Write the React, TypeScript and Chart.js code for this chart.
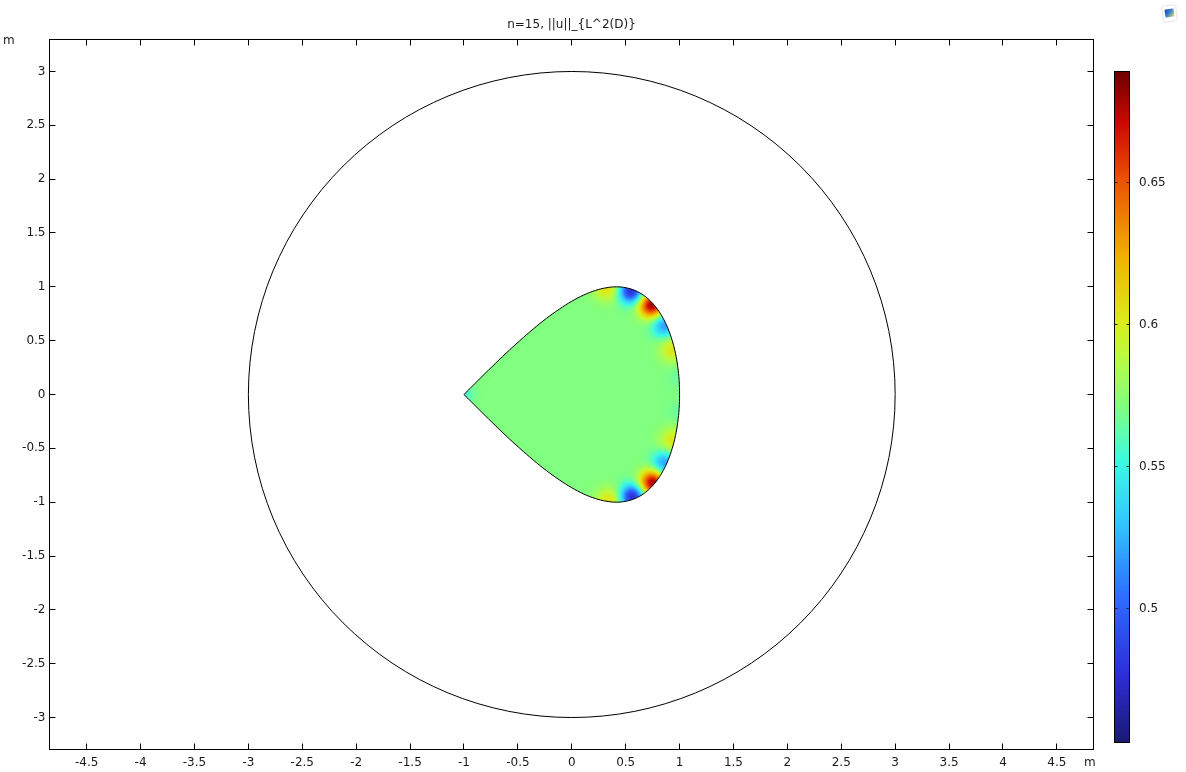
import React, { useEffect, useRef } from "react";
import { Chart, registerables } from "chart.js";

Chart.register(...registerables);

// ---------- data ----------
const titleText = "n=15, ||u||_{L^2(D)}";
const axisUnit = "m";
const xLimits = [-4.845, 4.84];
const yLimits = [-3.297, 3.297];
const xTicks = [-4.5, -4, -3.5, -3, -2.5, -2, -1.5, -1, -0.5, 0, 0.5, 1, 1.5, 2, 2.5, 3, 3.5, 4, 4.5];
const yTicks = [-3, -2.5, -2, -1.5, -1, -0.5, 0, 0.5, 1, 1.5, 2, 2.5, 3];

// outer circle (center x, center y) and radius
const circleCenter = [0, 0];
const circleRadius = [3];

// boundary of the drop-shaped domain D (closed loop)
const dropX = [-1, -0.869, -0.739, -0.61, -0.482, -0.357, -0.235, -0.115, 0, 0.111, 0.218, 0.319, 0.414, 0.504, 0.587, 0.663, 0.732, 0.794, 0.848, 0.894, 0.932, 0.962, 0.983, 0.996, 1, 0.996, 0.983, 0.962, 0.932, 0.894, 0.848, 0.794, 0.732, 0.663, 0.587, 0.504, 0.414, 0.319, 0.218, 0.111, 0, -0.115, -0.235, -0.357, -0.482, -0.61, -0.739, -0.869, -1];
const dropY = [0, 0.131, 0.259, 0.383, 0.5, 0.609, 0.707, 0.793, 0.866, 0.924, 0.966, 0.991, 1, 0.991, 0.966, 0.924, 0.866, 0.793, 0.707, 0.609, 0.5, 0.383, 0.259, 0.131, 0, -0.131, -0.259, -0.383, -0.5, -0.609, -0.707, -0.793, -0.866, -0.924, -0.966, -0.991, -1, -0.991, -0.966, -0.924, -0.866, -0.793, -0.707, -0.609, -0.5, -0.383, -0.259, -0.131, 0];

// field value inside D: background level plus local extrema along the boundary
const baseValue = 0.571;
const spotX = [0.33, 0.55, 0.74, 0.86, 0.94, 0.99, 0.99, 0.94, 0.86, 0.75, 0.56, 0.35, -0.99];
const spotY = [0.99, 0.96, 0.83, 0.64, 0.42, 0.17, -0.17, -0.43, -0.64, -0.82, -0.95, -0.99, 0];
const spotV = [0.607, 0.474, 0.68, 0.517, 0.605, 0.565, 0.565, 0.603, 0.517, 0.68, 0.474, 0.607, 0.556];
const spotW = [0.12, 0.11, 0.115, 0.11, 0.12, 0.1, 0.1, 0.12, 0.11, 0.115, 0.11, 0.12, 0.08];

// colour range
const colorMin = 0.4526;
const colorMax = 0.6893;
const colorTicks = [0.5, 0.55, 0.6, 0.65];

// ---------- style ----------
const FONT = "DejaVu Sans";
const TEXT = "#1a1a1a";
const cmapStops: number[][] = [
  [0.0, 25, 25, 115],
  [0.1, 45, 45, 215],
  [0.22, 45, 110, 255],
  [0.33, 50, 200, 255],
  [0.42, 60, 250, 225],
  [0.5, 128, 255, 128],
  [0.58, 190, 250, 60],
  [0.63, 220, 235, 25],
  [0.72, 240, 180, 0],
  [0.84, 235, 80, 5],
  [0.92, 205, 10, 0],
  [1.0, 110, 0, 0],
];

function cmap(f: number): number[] {
  if (f <= 0) return cmapStops[0].slice(1);
  if (f >= 1) return cmapStops[cmapStops.length - 1].slice(1);
  for (let i = 1; i < cmapStops.length; i++) {
    const a = cmapStops[i - 1];
    const b = cmapStops[i];
    if (f <= b[0]) {
      const t = (f - a[0]) / (b[0] - a[0]);
      return [a[1] + (b[1] - a[1]) * t, a[2] + (b[2] - a[2]) * t, a[3] + (b[3] - a[3]) * t];
    }
  }
  return cmapStops[cmapStops.length - 1].slice(1);
}

const CB = { left: 1114.5, top: 71.5, width: 15, height: 671 };

function tracePolygon(ctx: CanvasRenderingContext2D, xs: number[], ys: number[]) {
  ctx.moveTo(xs[0], ys[0]);
  for (let i = 1; i < xs.length; i++) ctx.lineTo(xs[i], ys[i]);
}

const overlayPlugin = {
  id: "overlay",
  beforeDatasetsDraw(chart: any) {
    const { ctx, chartArea: a, scales } = chart;
    const xs = scales.x;
    const ys = scales.y;

    // outer circle
    const cx = xs.getPixelForValue(circleCenter[0]);
    const cy = ys.getPixelForValue(circleCenter[1]);
    const rx = Math.abs(xs.getPixelForValue(circleCenter[0] + circleRadius[0]) - cx);
    const ry = Math.abs(ys.getPixelForValue(circleCenter[1] + circleRadius[0]) - cy);
    ctx.save();
    ctx.beginPath();
    ctx.ellipse(cx, cy, rx, ry, 0, 0, Math.PI * 2);
    ctx.strokeStyle = "#000";
    ctx.lineWidth = 1;
    ctx.stroke();
    ctx.restore();

    // field inside the drop
    const meta = chart.getDatasetMeta(0);
    const line = meta && meta.dataset;
    if (line && typeof line.updateControlPoints === "function") line.updateControlPoints(a, "x");
    const px = dropX.map((v) => xs.getPixelForValue(v));
    const py = dropY.map((v) => ys.getPixelForValue(v));
    const bx0 = Math.floor(Math.min(...px)) - 2;
    const bx1 = Math.ceil(Math.max(...px)) + 2;
    const by0 = Math.floor(Math.min(...py)) - 2;
    const by1 = Math.ceil(Math.max(...py)) + 2;
    const w = bx1 - bx0;
    const h = by1 - by0;
    const off = document.createElement("canvas");
    off.width = w;
    off.height = h;
    const octx = off.getContext("2d")!;
    const img = octx.createImageData(w, h);
    const range = colorMax - colorMin;
    for (let j = 0; j < h; j++) {
      const yv = ys.getValueForPixel(by0 + j + 0.5);
      for (let i = 0; i < w; i++) {
        const xv = xs.getValueForPixel(bx0 + i + 0.5);
        let v = baseValue;
        for (let k = 0; k < spotX.length; k++) {
          const dx = xv - spotX[k];
          const dy = yv - spotY[k];
          const d2 = (dx * dx + dy * dy) / (spotW[k] * spotW[k]);
          if (d2 < 30) v += (spotV[k] - baseValue) * Math.exp(-d2);
        }
        const c = cmap((v - colorMin) / range);
        const o = (j * w + i) * 4;
        img.data[o] = c[0];
        img.data[o + 1] = c[1];
        img.data[o + 2] = c[2];
        img.data[o + 3] = 255;
      }
    }
    octx.putImageData(img, 0, 0);
    ctx.save();
    ctx.beginPath();
    if (line && typeof line.path === "function") line.path(ctx);
    else tracePolygon(ctx, px, py);
    ctx.closePath();
    ctx.clip();
    ctx.drawImage(off, bx0, by0);
    ctx.restore();
  },
  afterDraw(chart: any) {
    const { ctx, chartArea: a, scales } = chart;
    const xs = scales.x;
    const ys = scales.y;
    ctx.save();
    ctx.strokeStyle = "#000";
    ctx.lineWidth = 1;
    // frame
    ctx.strokeRect(Math.floor(a.left) + 0.5, Math.floor(a.top) + 0.5, Math.round(a.right - a.left), Math.round(a.bottom - a.top));
    // inward ticks on all four sides
    const tl = 6;
    ctx.beginPath();
    const L = Math.floor(a.left) + 0.5;
    const R = Math.floor(a.left) + 0.5 + Math.round(a.right - a.left);
    const T = Math.floor(a.top) + 0.5;
    const B = Math.floor(a.top) + 0.5 + Math.round(a.bottom - a.top);
    xTicks.forEach((v) => {
      const p = Math.floor(xs.getPixelForValue(v)) + 0.5;
      ctx.moveTo(p, B);
      ctx.lineTo(p, B - tl);
      ctx.moveTo(p, T);
      ctx.lineTo(p, T + tl);
    });
    yTicks.forEach((v) => {
      const p = Math.floor(ys.getPixelForValue(v)) + 0.5;
      ctx.moveTo(L, p);
      ctx.lineTo(L + tl, p);
      ctx.moveTo(R, p);
      ctx.lineTo(R - tl, p);
    });
    ctx.stroke();

    // unit labels
    ctx.fillStyle = TEXT;
    ctx.font = `12px "${FONT}"`;
    ctx.textAlign = "left";
    ctx.textBaseline = "middle";
    ctx.fillText(axisUnit, 3, 41);
    ctx.fillText(axisUnit, 1084, 762.5);

    // colour bar
    const top = CB.top;
    const bottom = CB.top + CB.height;
    for (let r = Math.ceil(top); r < bottom; r++) {
      const f = (bottom - (r + 0.5)) / CB.height;
      const c = cmap(f);
      ctx.fillStyle = `rgb(${Math.round(c[0])},${Math.round(c[1])},${Math.round(c[2])})`;
      ctx.fillRect(CB.left, r, CB.width, 1);
    }
    ctx.strokeStyle = "#000";
    ctx.strokeRect(CB.left, CB.top, CB.width, CB.height);
    ctx.beginPath();
    ctx.fillStyle = TEXT;
    colorTicks.forEach((v) => {
      const f = (v - colorMin) / (colorMax - colorMin);
      const p = Math.floor(bottom - f * CB.height) + 0.5;
      ctx.moveTo(CB.left, p);
      ctx.lineTo(CB.left + 3, p);
      ctx.moveTo(CB.left + CB.width, p);
      ctx.lineTo(CB.left + CB.width - 3, p);
      ctx.fillText(String(v), 1139, p);
    });
    ctx.strokeStyle = "#222";
    ctx.stroke();
    ctx.restore();
  },
};

export default function App() {
  const canvasRef = useRef<HTMLCanvasElement | null>(null);

  useEffect(() => {
    const canvas = canvasRef.current;
    if (!canvas) return;
    const chart = new Chart(canvas, {
      type: "scatter",
      data: {
        datasets: [
          {
            label: "D",
            data: dropX.map((x, i) => ({ x, y: dropY[i] })),
            showLine: true,
            tension: 0.4,
            borderColor: "#000",
            borderWidth: 1,
            pointRadius: 0,
            pointHoverRadius: 0,
            fill: false,
          } as any,
        ],
      },
      options: {
        animation: false,
        responsive: false,
        events: [],
        layout: { padding: { left: 0, right: 92.5, top: 0, bottom: 0 } },
        plugins: {
          legend: { display: false },
          tooltip: { enabled: false },
          title: {
            display: true,
            text: titleText,
            fullSize: false,
            color: TEXT,
            font: { family: FONT, size: 12, weight: "normal" },
            padding: { top: 17.3, bottom: 7.8 },
          },
        },
        scales: {
          x: {
            type: "linear",
            min: xLimits[0],
            max: xLimits[1],
            afterBuildTicks: (s: any) => {
              s.ticks = xTicks.map((v) => ({ value: v }));
            },
            afterFit: (s: any) => {
              s.height = 22.5;
            },
            grid: { display: false, drawTicks: false },
            border: { display: false },
            ticks: {
              autoSkip: false,
              maxRotation: 0,
              padding: 6,
              color: TEXT,
              font: { family: FONT, size: 12 },
              callback: (v: any) => String(v),
            },
          },
          y: {
            type: "linear",
            min: yLimits[0],
            max: yLimits[1],
            afterBuildTicks: (s: any) => {
              s.ticks = yTicks.map((v) => ({ value: v }));
            },
            afterFit: (s: any) => {
              s.width = 49.5;
            },
            grid: { display: false, drawTicks: false },
            border: { display: false },
            ticks: {
              autoSkip: false,
              padding: 4,
              color: TEXT,
              font: { family: FONT, size: 12 },
              callback: (v: any) => String(v),
            },
          },
        },
      } as any,
      plugins: [overlayPlugin],
    });
    return () => chart.destroy();
  }, []);

  return (
    <div style={{ position: "fixed", left: 0, top: 0, width: 1186, height: 772, background: "#fff" }}>
      <canvas ref={canvasRef} width={1186} height={772} style={{ display: "block" }} />
      <div
        style={{
          position: "absolute",
          left: 1163,
          top: 6,
          width: 13,
          height: 15,
          background: "#fff",
          boxShadow: "0 0 2px rgba(0,0,0,0.35)",
          transform: "rotate(-8deg)",
          borderRadius: 1,
        }}
      >
        <div
          style={{
            position: "absolute",
            left: 2,
            top: 3,
            width: 9,
            height: 8,
            borderRadius: 1,
            background: "linear-gradient(135deg, #1d3f9e 0%, #2f7fd8 45%, #e8e050 100%)",
          }}
        />
      </div>
    </div>
  );
}
